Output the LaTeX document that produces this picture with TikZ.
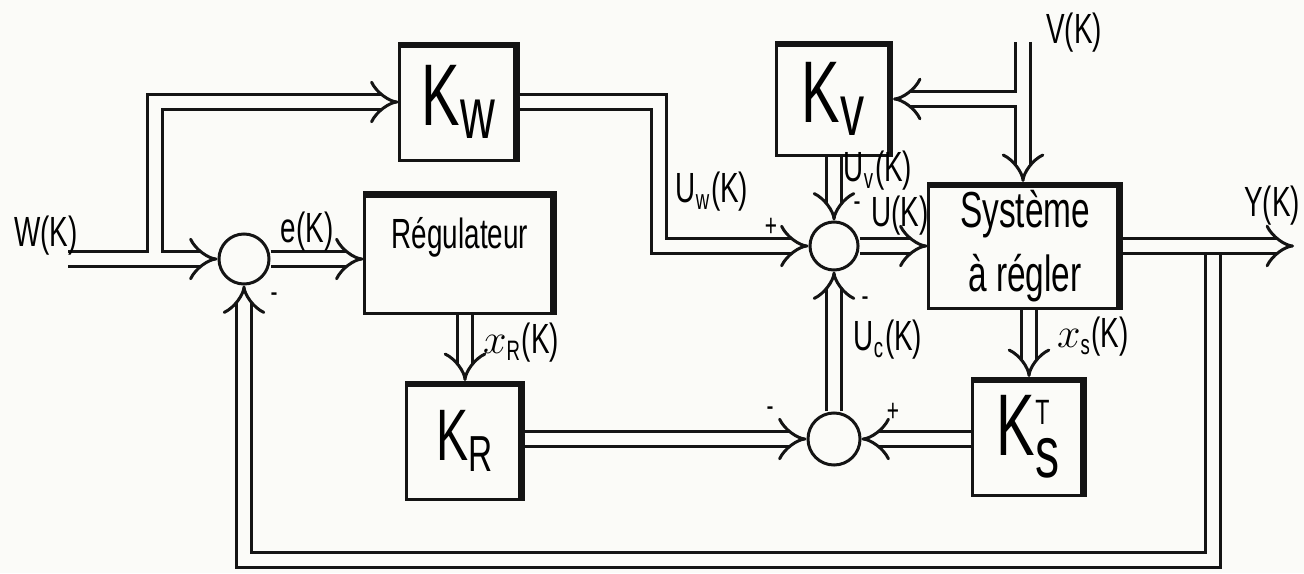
\documentclass[tikz,border=0pt]{standalone}
\usepackage{amsmath}
\usepackage{fontspec}
\usepackage{tikz}
\usetikzlibrary{arrows.meta,positioning,calc}
\newfontfamily\handfont[FakeStretch=0.66]{Liberation Sans}
\definecolor{paper}{RGB}{251,251,248}
\definecolor{ink}{RGB}{20,20,20}
\tikzset{
  blk/.style={draw=ink,line width=0.85pt,fill=paper,inner sep=2pt,align=center,
    path picture={\draw[ink,line width=2.8pt] (path picture bounding box.north west)
      -- (path picture bounding box.north east) -- (path picture bounding box.south east);}},
  sumnode/.style={circle,draw=ink,line width=0.85pt,fill=paper,inner sep=0pt},
  sig/.style={draw=ink,line width=0.85pt,double=paper,double distance=3.4pt,-{Implies}},
  lbl/.style={inner sep=1pt,font=\handfont\large},
  sgn/.style={inner sep=0pt,font=\handfont\small},
}
\begin{document}
\begin{tikzpicture}[x=0.01cm,y=0.01cm]
  \fill[paper] (0,0) rectangle (1304,-573);
  \useasboundingbox (0,0) rectangle (1304,-573);
  % blocks
  \node[blk,minimum width=1.18cm,minimum height=1.17cm,font=\handfont\Huge] (kw) at (459,-102) {K$_{\text{w}}$};
  \node[blk,minimum width=1.90cm,minimum height=1.20cm,text depth=4mm,font=\handfont\large] (reg) at (460,-253) {Régulateur};
  \node[blk,minimum width=1.15cm,minimum height=1.13cm,font=\handfont\Huge] (kv) at (834,-99) {K$_{\text{v}}$};
  \node[blk,minimum width=1.92cm,minimum height=1.22cm,font=\handfont\Large] (sys) at (1025,-246) {Système\\à régler};
  \node[blk,minimum width=1.16cm,minimum height=1.17cm,font=\handfont\huge] (kr) at (465,-441) {K$_{\text{R}}$};
  \node[blk,minimum width=1.12cm,minimum height=1.17cm,font=\handfont\Huge] (ks) at (1029,-437) {K$_{\text{s}}^{\text{\normalsize T}}$};
  % summing points
  \node[sumnode,minimum size=0.50cm] (s1) at (244,-259) {};
  \node[sumnode,minimum size=0.48cm] (s2) at (834,-246) {};
  \node[sumnode,minimum size=0.52cm] (s3) at (834,-439) {};
  % free ends and branch points
  \coordinate (win) at (68,-259);
  \coordinate (wsplit) at (155,-253);
  \coordinate (vin) at (1023,-42);
  \coordinate (vsplit) at (1017,-99);
  \coordinate (yout) at (1294,-246);
  \coordinate (ysplit) at (1213,-255);
  % signals
  \draw[sig] (win) -- (s1);
  \draw[sig] (wsplit) |- (kw);
  \draw[sig] (kw) -| (659,-246) -- (s2);
  \draw[sig] (s1) -- (s1 -| reg.west);
  \draw[sig] (reg.south -| kr) -- (kr);
  \draw[sig] (kr.east |- s3) -- (s3);
  \draw[sig] (ks.west |- s3) -- (s3);
  \draw[sig] (sys.south -| ks) -- (ks);
  \draw[sig] (s3) -- (s2);
  \draw[sig] (kv) -- (s2);
  \draw[sig] (s2) -- (s2 -| sys.west);
  \draw[sig] (vin) -- (vin |- sys.north);
  \draw[sig] (vsplit) -- (vsplit -| kv.east);
  \draw[sig] (sys) -- (yout);
  \draw[sig] (ysplit) |- (s1 |- 0,-560) -- (s1);
  % labels
  \node[lbl] (lw) at (46,-236) {W(K)};
  \node[lbl] (le) at (307,-232) {e(K)};
  \node[lbl] (luw) at (712,-192) {U\textsubscript{w}(K)};
  \node[lbl] (luv) at (878,-171) {U\textsubscript{v}(K)};
  \node[lbl] (lu) at (900,-216) {U(K)};
  \node[lbl] (lv) at (1074,-33) {V(K)};
  \node[lbl] (ly) at (1272,-206) {Y(K)};
  \node[lbl] (lxr) at (521,-343) {$x$\textsubscript{R}(K)};
  \node[lbl] (lxs) at (1093,-337) {$x$\textsubscript{s}(K)};
  \node[lbl] (luc) at (888,-340) {U\textsubscript{c}(K)};
  % signs
  \node[sgn] (m1) at (274,-298) {-};
  \node[sgn] (p2) at (771,-227) {+};
  \node[sgn] (m2a) at (857,-207) {-};
  \node[sgn] (m2b) at (865,-302) {-};
  \node[sgn] (m3) at (770,-412) {-};
  \node[sgn] (p3) at (893,-412) {+};
\end{tikzpicture}
\end{document}
